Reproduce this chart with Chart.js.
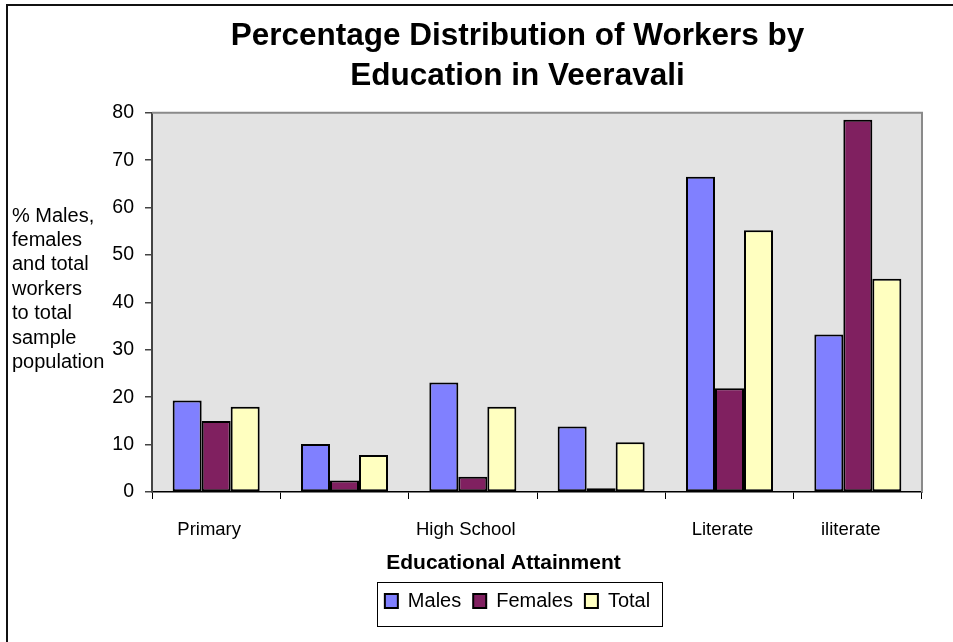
<!DOCTYPE html>
<html>
<head>
<meta charset="utf-8">
<script src="https://cdn.jsdelivr.net/npm/chart.js@4/dist/chart.umd.min.js"></script>
<style>
html,body{margin:0;padding:0;background:#fff;}
#wrap{width:953px;height:642px;position:relative;}
</style>
</head>
<body>
<div id="wrap"><canvas id="c" width="953" height="642"></canvas></div>
<script>
// ---- data ----
const categories = ['Primary', '', 'High School', '', 'Literate', 'iliterate'];
const seriesNames = ['Males', 'Females', 'Total'];
const males   = [19.3, 10.1, 23.1, 13.8, 66.5, 33.2];
const females = [15.0, 2.4, 3.2, 0.8, 21.9, 78.5];
const total   = [18.0, 7.8, 18.0, 10.5, 55.2, 45.0];
const yMin = 0, yMax = 80, yStep = 10;
const titleLines = ['Percentage Distribution of Workers by', 'Education in Veeravali'];
const xAxisTitle = 'Educational Attainment';
const yAxisTitleLines = ['% Males,', 'females', 'and total', 'workers', 'to total', 'sample', 'population'];

const FONT = "'Liberation Sans', Arial, Helvetica, sans-serif";
Chart.defaults.font.family = FONT;
Chart.defaults.color = '#000';

const decor = {
  id: 'decor',
  beforeDraw(chart) {
    const {ctx, chartArea: a} = chart;
    ctx.save();
    ctx.fillStyle = '#fff';
    ctx.fillRect(0, 0, chart.width, chart.height);
    // outer frame (top and left edges visible)
    ctx.strokeStyle = '#111';
    ctx.lineWidth = 2;
    ctx.beginPath();
    ctx.moveTo(7, chart.height);
    ctx.lineTo(7, 5);
    ctx.lineTo(chart.width, 5);
    ctx.stroke();
    // plot area background
    ctx.fillStyle = '#E3E3E3';
    ctx.fillRect(a.left, a.top, a.right - a.left, a.bottom - a.top);
    ctx.restore();
  },
  afterDraw(chart) {
    const {ctx, chartArea: a} = chart;
    ctx.save();
    // plot border top & right
    ctx.strokeStyle = '#8a8a8a';
    ctx.lineWidth = 2;
    ctx.beginPath();
    ctx.moveTo(a.left, a.top);
    ctx.lineTo(a.right, a.top);
    ctx.lineTo(a.right, a.bottom);
    ctx.stroke();
    // y axis title (horizontal, multi-line)
    ctx.fillStyle = '#000';
    ctx.font = '20px ' + FONT;
    ctx.textAlign = 'left';
    ctx.textBaseline = 'middle';
    yAxisTitleLines.forEach((t, i) => ctx.fillText(t, 12, 216 + i * 24.4));
    // x axis title
    ctx.font = 'bold 21px ' + FONT;
    ctx.textAlign = 'center';
    ctx.fillText(xAxisTitle, 503.5, 563);
    // legend frame
    const hb = chart.legend.legendHitBoxes;
    if (hb && hb.length) {
      const first = hb[0], last = hb[hb.length - 1];
      const l = Math.round(first.left - 8) + 0.5;
      const r = Math.round(last.left + last.width + 12) + 0.5;
      const t = Math.round(first.top - 9) + 0.5;
      const b = Math.round(first.top + first.height + 15) + 0.5;
      ctx.strokeStyle = '#000';
      ctx.lineWidth = 1;
      ctx.strokeRect(l, t, r - l, b - t);
    }
    ctx.restore();
  }
};

const mk = (label, data, color) => ({
  label, data,
  backgroundColor: color,
  borderColor: '#000',
  borderWidth: 2,
  borderSkipped: false,
  categoryPercentage: 0.678,
  barPercentage: 1.0,
  yAxisID: 'y'
});

new Chart(document.getElementById('c'), {
  type: 'bar',
  data: {
    labels: categories,
    datasets: [
      mk(seriesNames[0], males, '#8080FF'),
      mk(seriesNames[1], females, '#802060'),
      mk(seriesNames[2], total, '#FFFFC0')
    ]
  },
  options: {
    responsive: false,
    animation: false,
    devicePixelRatio: 1,
    layout: { padding: { left: 82, right: 0, top: 0, bottom: 21 } },
    plugins: {
      title: {
        display: true,
        text: titleLines,
        color: '#000',
        font: { size: 31.5, weight: 'bold', lineHeight: 1.25 },
        padding: { top: 17, bottom: 17 }
      },
      legend: {
        position: 'bottom',
        labels: {
          boxWidth: 13, boxHeight: 14, padding: 12,
          color: '#000', font: { size: 20 }
        }
      },
      tooltip: { enabled: false }
    },
    scales: {
      x: {
        type: 'category',
        offset: true,
        grid: { offset: true, drawOnChartArea: false, drawTicks: true, tickLength: 7, color: '#000', lineWidth: 1 },
        border: { display: true, color: '#000', width: 1.5 },
        ticks: { autoSkip: false, maxRotation: 0, padding: 20, labelOffset: -7, color: '#000', font: { size: 18.5 } },
        afterFit(s) { s.height = 87; }
      },
      y: {
        position: 'left',
        min: yMin, max: yMax,
        ticks: { stepSize: yStep, padding: 11, color: '#000', font: { size: 19.5 } },
        grid: { drawOnChartArea: false, tickLength: 7, color: '#444', lineWidth: 1.5 },
        border: { color: '#444', width: 2 },
        afterFit(s) { s.width = 70; }
      },
      yR: {
        position: 'right',
        display: true,
        grid: { display: false },
        ticks: { display: false },
        border: { display: false },
        afterFit(s) { s.width = 31; }
      }
    }
  },
  plugins: [decor]
});
</script>
</body>
</html>
